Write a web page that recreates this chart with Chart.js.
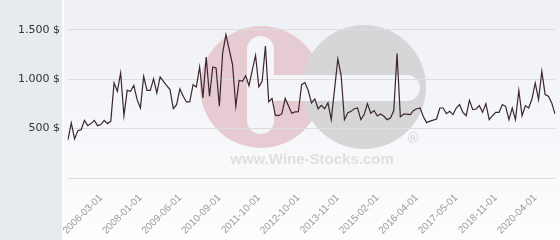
<!DOCTYPE html>
<html>
<head>
<meta charset="utf-8">
<script src="https://cdn.jsdelivr.net/npm/chart.js@4.4.1/dist/chart.umd.min.js"></script>
<style>
  html, body { margin: 0; padding: 0; background: #fff; }
  canvas { display: block; }
</style>
</head>
<body>
<canvas id="priceChart" width="560" height="240"></canvas>
<script>
// price history (USD)
const prices = [
    388, 557, 395, 479, 489, 583, 529, 550, 583, 529, 540, 583, 550, 573, 961, 876, 1063, 630, 886, 876,
    937, 792, 708, 1028, 886, 886, 1002, 860,
    1022, 978, 935, 894, 701, 742, 900, 826, 769, 769, 944, 921, 1123, 810, 1224, 826, 1123, 1113, 725, 1265,
    1450, 1298, 1147, 725, 988, 978, 1035, 934, 1090, 1240, 921,
    978, 1335, 770, 805, 635, 630, 650, 805, 730, 655, 668, 670, 944, 965, 885, 759, 800, 700, 735, 700,
    760, 590, 894, 1204, 1040, 590, 658,
    674, 700, 708, 590, 641, 752, 655, 682, 628, 648, 624, 590, 607, 680, 1258, 618, 645, 645, 641, 684,
    700, 708, 620, 560, 575, 585, 597,
    708, 708, 651, 674, 641, 708, 742, 664, 630, 785, 691, 698, 732, 664, 752, 590, 630, 664, 664, 742,
    725, 590, 708, 590, 886, 630, 732, 708, 799, 961, 792, 1079, 843, 826, 759, 648
];

// dates shown on the x axis and the point they belong to
const tickLabels = ['2006-03-01', '2008-01-01', '2009-06-01', '2010-09-01', '2011-10-01', '2012-10-01',
    '2013-11-01', '2015-02-01', '2016-04-01', '2017-05-01', '2018-11-01', '2020-04-01'];
const tickIndex = [10, 22, 34, 46, 58, 70, 82, 94, 106, 118, 130, 142];

const yTicks = [0, 500, 1000, 1500];

const labels = prices.map((_, i) => {
    const k = tickIndex.indexOf(i);
    return k >= 0 ? tickLabels[k] : '';
});

function formatDollar(v) {
    return String(v).replace(/\B(?=(\d{3})+(?!\d))/g, '.') + ' $';
}

function pill(ctx, x, y, w, h) {
    const r = Math.min(w, h) / 2;
    ctx.beginPath();
    ctx.moveTo(x + r, y);
    ctx.arcTo(x + w, y, x + w, y + h, r);
    ctx.arcTo(x + w, y + h, x, y + h, r);
    ctx.arcTo(x, y + h, x, y, r);
    ctx.arcTo(x, y, x + w, y, r);
    ctx.closePath();
    ctx.fill();
}

// backgrounds + watermark logo
const backdrop = {
    id: 'backdrop',
    beforeDraw(chart) {
        const ctx = chart.ctx;
        const w = chart.width, h = chart.height;
        ctx.save();
        const g = ctx.createLinearGradient(0, 0, 0, h);
        g.addColorStop(0, '#eef0f5');
        g.addColorStop(1, '#fdfdfe');
        ctx.fillStyle = g;
        ctx.fillRect(0, 0, w, h);
        ctx.fillStyle = '#e7ebee';
        ctx.fillRect(0, 0, 62.5, h);
        ctx.fillStyle = '#ffffff';
        ctx.fillRect(62.5, 0, 1.5, h);

        // logo
        ctx.fillStyle = '#e7cbd2';
        ctx.beginPath(); ctx.arc(261, 87, 61, 0, Math.PI * 2); ctx.fill();
        ctx.fillStyle = '#d6d6d8';
        ctx.beginPath(); ctx.arc(364, 87, 62, 0, Math.PI * 2); ctx.fill();
        ctx.fillStyle = '#f4f5f8';
        pill(ctx, 247, 36, 27, 98);
        pill(ctx, 250, 75, 170, 26);

        ctx.fillStyle = '#d8d8da';
        ctx.font = '14px "DejaVu Sans"';
        ctx.textAlign = 'center';
        ctx.textBaseline = 'middle';
        ctx.fillText('®', 413, 139);
        ctx.fillStyle = '#e0e0e2';
        ctx.font = 'bold 15px "Liberation Sans"';
        ctx.fillText('www.Wine-Stocks.com', 312, 160);
        ctx.restore();
    }
};

new Chart(document.getElementById('priceChart'), {
    type: 'line',
    data: {
        labels: labels,
        datasets: [{
            data: prices,
            borderColor: '#3b2630',
            borderWidth: 1.2,
            pointRadius: 0,
            tension: 0,
            fill: false
        }]
    },
    options: {
        responsive: false,
        animation: false,
        devicePixelRatio: 1,
        layout: { padding: { left: 0, right: 5, top: 0, bottom: 0 } },
        plugins: {
            legend: { display: false },
            tooltip: { enabled: false }
        },
        scales: {
            x: {
                grid: { display: false },
                border: { display: false },
                afterFit: s => {
                    s.height = 62;
                    s.paddingLeft = 0; s.paddingRight = 0;
                },
                ticks: {
                    autoSkip: false,
                    minRotation: 45,
                    maxRotation: 45,
                    padding: 6,
                    color: '#999999',
                    font: { family: 'Liberation Sans', size: 10 },
                    callback: (v, i) => labels[i]
                }
            },
            y: {
                min: 0,
                max: 1800,
                afterBuildTicks: s => { s.ticks = yTicks.map(v => ({ value: v })); },
                afterFit: s => {
                    s.width = 68;
                    s.paddingTop = 0; s.paddingBottom = 0;
                },
                grid: { color: '#dddddd', drawTicks: false },
                border: { display: false },
                ticks: {
                    padding: 8,
                    color: '#333333',
                    font: { family: 'DejaVu Sans', size: 11 },
                    callback: v => v === 0 ? '' : formatDollar(v)
                }
            }
        }
    },
    plugins: [backdrop]
});
</script>
</body>
</html>
